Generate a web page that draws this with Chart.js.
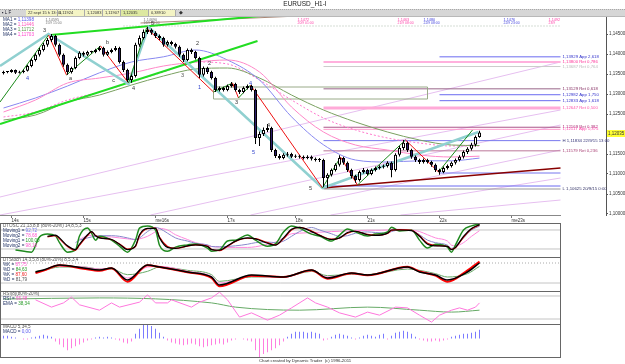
<!DOCTYPE html>
<html><head><meta charset="utf-8">
<script src="https://cdn.jsdelivr.net/npm/chart.js@4.4.1/dist/chart.umd.min.js"></script>
<style>
html,body{margin:0;padding:0;background:#fff;}
body{width:625px;height:364px;position:relative;overflow:hidden;}
canvas{position:absolute;left:0;display:block;}
</style></head><body>
<canvas id="main" width="625" height="223" style="top:0;width:625px;height:223px"></canvas>
<canvas id="p1" width="561" height="34" style="top:223px;width:561px;height:34px"></canvas>
<canvas id="p2" width="561" height="34" style="top:257px;width:561px;height:34px"></canvas>
<canvas id="p3" width="561" height="33" style="top:291px;width:561px;height:33px"></canvas>
<canvas id="p4" width="561" height="40" style="top:324px;width:561px;height:40px"></canvas>
<script>
// ================= DATA =================
const opens=[
1.1352,1.1355,1.1355,1.1360,1.1353,1.1355,1.1358,1.1370,1.1385,1.1398,
1.1410,1.1423,1.1435,1.1445,1.1423,1.1398,1.1373,1.1355,1.1365,1.1390,
1.1403,1.1398,1.1405,1.1405,1.1410,1.1415,1.1398,1.1405,1.1410,1.1415,
1.1380,1.1360,1.1335,1.1345,1.1423,1.1440,1.1455,1.1460,1.1453,1.1445,
1.1440,1.1423,1.1430,1.1425,1.1418,1.1398,1.1385,1.1410,1.1405,1.1390,
1.1348,1.1365,1.1355,1.1340,1.1310,1.1315,1.1310,1.1320,1.1325,1.1310,
1.1305,1.1315,1.1320,1.1310,1.1190,1.1200,1.1210,1.1215,1.1160,1.1145,
1.1140,1.1148,1.1150,1.1143,1.1145,1.1143,1.1140,1.1143,1.1138,1.1135,
1.1135,1.1090,1.1098,1.1110,1.1123,1.1140,1.1128,1.1110,1.1095,1.1085,
1.1105,1.1110,1.1100,1.1110,1.1115,1.1118,1.1120,1.1128,1.1110,1.1148,
1.1165,1.1178,1.1160,1.1143,1.1135,1.1130,1.1135,1.1130,1.1123,1.1110,
1.1105,1.1115,1.1120,1.1128,1.1135,1.1143,1.1155,1.1163,1.1173,1.11924];
const highs=[
1.1358,1.1357,1.1362,1.1361,1.1358,1.1361,1.1373,1.1389,1.1402,1.1415,
1.1428,1.1440,1.1450,1.1448,1.1426,1.1401,1.1376,1.1368,1.1394,1.1407,
1.1406,1.1408,1.1408,1.1413,1.1420,1.1418,1.1409,1.1414,1.1420,1.1418,
1.1384,1.1363,1.1349,1.1428,1.1446,1.1461,1.1468,1.1464,1.1457,1.1449,
1.1443,1.1434,1.1433,1.1428,1.1421,1.1401,1.1414,1.1414,1.1408,1.1393,
1.1369,1.1368,1.1358,1.1343,1.1319,1.1318,1.1324,1.1330,1.1328,1.1313,
1.1319,1.1324,1.1323,1.1313,1.1206,1.1216,1.1225,1.1218,1.1163,1.1150,
1.1152,1.1155,1.1153,1.1149,1.1148,1.1146,1.1147,1.1146,1.1141,1.1140,
1.1138,1.1102,1.1114,1.1127,1.1147,1.1143,1.1131,1.1113,1.1098,1.1109,
1.1115,1.1113,1.1114,1.1119,1.1122,1.1124,1.1132,1.1131,1.1152,1.1170,
1.1185,1.1181,1.1163,1.1146,1.1138,1.1139,1.1138,1.1133,1.1126,1.1113,
1.1119,1.1124,1.1131,1.1139,1.1147,1.1159,1.1167,1.1178,1.1196,1.12083];
const lows=[
1.1349,1.1352,1.1353,1.1350,1.1351,1.1352,1.1356,1.1367,1.1381,1.1394,
1.1406,1.1418,1.1430,1.1419,1.1394,1.1368,1.1348,1.1351,1.1362,1.1387,
1.1394,1.1395,1.1401,1.1402,1.1407,1.1394,1.1395,1.1402,1.1407,1.1376,
1.1355,1.1330,1.1328,1.1341,1.1418,1.1436,1.1450,1.1448,1.1440,1.1435,
1.1418,1.1419,1.1421,1.1414,1.1393,1.1380,1.1382,1.1400,1.1386,1.1340,
1.1344,1.1350,1.1336,1.1305,1.1306,1.1306,1.1307,1.1316,1.1306,1.1300,
1.1302,1.1311,1.1306,1.1175,1.1170,1.1195,1.1205,1.1155,1.1140,1.1136,
1.1137,1.1144,1.1140,1.1140,1.1139,1.1136,1.1137,1.1134,1.1131,1.1130,
1.1068,1.1065,1.1094,1.1106,1.1119,1.1123,1.1105,1.1089,1.1078,1.1081,
1.1101,1.1096,1.1097,1.1106,1.1111,1.1114,1.1116,1.1092,1.1106,1.1144,
1.1160,1.1155,1.1138,1.1130,1.1125,1.1126,1.1126,1.1118,1.1105,1.1098,
1.1102,1.1111,1.1116,1.1124,1.1131,1.1139,1.1150,1.1159,1.1169,1.11907];
const closes=[
1.1355,1.1355,1.1360,1.1353,1.1355,1.1358,1.1370,1.1385,1.1398,1.1410,
1.1423,1.1435,1.1445,1.1423,1.1398,1.1373,1.1355,1.1365,1.1390,1.1403,
1.1398,1.1405,1.1405,1.1410,1.1415,1.1398,1.1405,1.1410,1.1415,1.1380,
1.1360,1.1335,1.1345,1.1423,1.1440,1.1455,1.1460,1.1453,1.1445,1.1440,
1.1423,1.1430,1.1425,1.1418,1.1398,1.1385,1.1410,1.1405,1.1390,1.1348,
1.1365,1.1355,1.1340,1.1310,1.1315,1.1310,1.1320,1.1325,1.1310,1.1305,
1.1315,1.1320,1.1310,1.1190,1.1200,1.1210,1.1215,1.1160,1.1145,1.1140,
1.1148,1.1150,1.1143,1.1145,1.1143,1.1140,1.1143,1.1138,1.1135,1.1135,
1.1090,1.1098,1.1110,1.1123,1.1140,1.1128,1.1110,1.1095,1.1085,1.1105,
1.1110,1.1100,1.1110,1.1115,1.1118,1.1120,1.1128,1.1110,1.1148,1.1165,
1.1178,1.1160,1.1143,1.1135,1.1130,1.1135,1.1130,1.1123,1.1110,1.1105,
1.1115,1.1120,1.1128,1.1135,1.1143,1.1155,1.1163,1.1173,1.11924,1.12035];

const maBars=[0,8,16,24,32,40,48,56,64,72,80,88,96,104,112,119];
const ma1=[1.1265,1.1290,1.1320,1.1353,1.1380,1.1393,1.1410,1.1385,1.1335,1.1243,1.1173,1.1135,1.1130,1.1133,1.1133,1.11398];
const ma2=[1.1255,1.1285,1.13275,1.1340,1.13525,1.1370,1.1380,1.1385,1.1355,1.12675,1.1205,1.11725,1.1160,1.11475,1.11425,1.11446];
const ma3=[1.1235,1.12475,1.1280,1.12975,1.13225,1.1345,1.13625,1.1365,1.1340,1.12975,1.1260,1.1230,1.1205,1.1185,1.11725,1.11712];
const ma4=[1.12425,1.1255,1.1285,1.1305,1.1330,1.1355,1.1380,1.1375,1.1335,1.1285,1.1240,1.1210,1.1190,1.11775,1.1170,1.11703];

const dayTicks=[2,20,38,56,73,91,109,127];
const dayLabels=['14s','15s','me16s','17s','18s','21s','22s','me23s'];
const priceTicks=[1.100,1.105,1.110,1.115,1.125,1.130,1.135,1.140,1.145];
const lastPrice=1.12035;
const infoCells=['22 sept 15 h 13:00','1,11924','1,12083','1,11907','1,12035','0,38910'];

const levelPrices=[1.13929,1.13800,1.13687,1.13129,1.12982,1.12833,1.12647,1.12169,1.12117,1.11834,1.11579,1.11025,1.10700,1.10625];
const levelFrom=[109,80,80,80,109,109,80,80,80,80,80,109,80,80];
const levelTexts=['1,13929 App 2,618','1,13800 Ret 0,786','1,13687 Ret 0,764','1,13129 Ret 0,618','1,12982 App 1,750','1,12833 App 1,618','1,12647 Ret 0,500','1,12169 Ret 0,382','1,12117 App 1,375','H 1,11834 22/9/15 13:00','1,11579 Ret 0,236','','','L 1,10625 20/9/15 0:00'];
const levelEnd=139.25;

const zzBars=[-0.875,11.25,15.75,24.25,31.25,35.75,52.5,57.25,58.75,61.75,79.75,84.25,88.5,100.5,108.75,117.25];
const zzPrices=[1.1280,1.14475,1.13475,1.1420,1.13275,1.1465,1.1305,1.13275,1.1290,1.13225,1.1065,1.11425,1.10725,1.1185,1.1105,1.1210];
const tealBars=[-0.875,11.25,31.25,36.25,79.75,118.75];
const tealPrices=[1.1370,1.1450,1.1325,1.14675,1.1065,1.1205];
const trendGreenBars=[-0.875,63.5], trendGreenPrices=[1.1225,1.14325];
const trendGreen2Bars=[11.75,64.25], trendGreen2Prices=[1.14475,1.1495];
const trendBrownBars=[34.25,73.75], trendBrownPrices=[1.14775,1.1495];
const trendMaroonBars=[79.75,139.25], trendMaroonPrices=[1.1065,1.1115];
const topDotBars=[30,139.25], topDotPrices=[1.1470,1.1470];
const boxBars=[52.5,106], boxPrices=[1.12875,1.13175];
const fanStartBars=[-0.875,-0.875,36.75,61.75,81.75,99.25];
const fanStartPrices=[1.10425,1.09975,1.09975,1.09975,1.09975,1.09975];
const fanEndBars=[139.25,139.25,139.25,139.25,139.25,139.25];
const fanEndPrices=[1.1380,1.1260,1.12225,1.1160,1.1090,1.1035];

const waveText=['3','4','a','b','c','4','5','3','2','1','2','3','4','5','4','5'];
const waveBars=[10.25,6,16.75,26,27.5,32.5,37.25,44.75,48.5,49,51.5,58.25,61.75,62.5,66.25,76.75];
const wavePrices=[1.1460,1.1340,1.1340,1.1430,1.1335,1.1315,1.14775,1.13475,1.14275,1.13175,1.13775,1.1280,1.13275,1.1155,1.12225,1.1065];

const noteBars=[10.5,35,73.5,98.5,105,125,136.25];
const noteA=['1,14595','1,14690','1,1472','1,1463','1,1480','1,1476','1,1492'];
const noteB=['15/9 15:00','16/9 23:00','20/9 01:00','21/9 08:00','22/9 08:00','22/9 23:00','23/9'];

// DTOSC
const oscBars=[3,7,9,11,13,14,16,18,19,21,22,23,24,27,29,31,33,34,36,38,39,41,43,46,48,51,52,54,56,58,61,63,66,68,70,72,74,77,79,82,84,86,88,91,93,96,97,99,102,104,106,108,111,112,113,115,117,119];
const oscGreen=[17,10,58,67,61,40,10,17,61,86,70,48,60,48,29,10,48,86,93,80,32,13,26,33,36,23,13,17,45,48,64,48,29,36,74,93,86,67,61,45,64,83,74,61,67,74,89,77,80,48,23,35,26,10,33,80,93,99];
const oscBlack=[null,null,null,60,64,55,30,18,35,65,75,62,55,50,35,18,30,65,85,85,55,25,22,30,33,28,18,16,30,45,55,52,38,32,55,82,88,75,63,50,55,72,76,65,63,70,80,80,78,60,35,30,28,18,25,60,85,97];
const oscRed=[null,null,null,58,62,52,28,16,32,62,74,63,56,50,36,20,28,62,84,86,58,28,22,29,33,29,19,15,28,44,54,53,40,33,52,80,88,77,64,51,54,70,76,66,63,69,79,81,79,62,38,31,28,19,24,57,83,96];
const oscBlue=[null,null,null,null,null,null,null,40,48,55,58,60,62,62,60,55,50,55,75,88,85,70,55,45,38,33,28,27,28,30,35,40,42,40,45,60,75,88,80,68,60,62,70,74,72,70,75,80,78,65,48,40,32,22,30,55,80,92];
const oscPink=[null,null,null,null,null,null,null,null,50,62,63,62,60,58,55,52,50,52,60,75,85,80,65,50,40,32,28,26,25,25,25,27,35,42,55,68,70,72,73,75,76,77,78,79,79,80,82,82,80,75,65,55,45,32,30,40,60,78];
// DTStoch
const stBars=[8,10,14,20,24,27,31,36,39,46,52,54,62,70,77,81,87,91,101,104,108,111,116,119];
const stBlack=[53,59,74,65,59,65,29,74,68,53,38,14,44,38,59,35,50,44,68,53,44,29,53,80];
const stRed=[50,57,73,63,57,64,24,73,68,52,35,10,42,38,58,33,49,43,69,55,42,24,58,84];
const stGreen=[55,58,68,68,62,62,45,55,68,58,45,25,38,38,55,42,46,45,62,58,48,38,48,70];
const stPink=[null,null,70,68,62,64,35,68,70,55,40,20,40,37,57,38,48,44,66,56,45,30,55,82];
// RSI
const rsiBars=[8,12,15,17,19,24,27,29,34,36,38,41,42,47,49,52,54,56,59,62,66,69,72,76,78,81,84,88,91,94,98,101,104,107,109,112,114,116,118,119];
const rsiVals=[70,51,62,77,57,43,62,51,64,83,62,62,70,51,64,75,90,70,25,36,17,30,49,75,62,51,36,25,38,30,51,49,30,12,30,43,49,43,51,62];
const emaBars=[0,24,52,58,74,91,104,112,119];
const emaVals=[72,75,62,51,43,51,43,38,43];
// MACD histogram (one per bar)
const macdHist=[3,3,2,1,0,-1,-1,1,2,3,4,3,2,-3,-6,-9,-12,-10,-8,-6,-4,-2,-1,1,2,1,2,1,-1,-2,-4,-5,-3,5,10,14,15,13,10,6,2,-2,-4,-5,-6,-7,-6,-5,-6,-8,-9,-8,-7,-6,-5,-6,-4,-2,-1,0,-1,-2,-3,-12,-19,-16,-14,-12,-10,-7,-3,2,5,7,7,7,6,7,6,5,-2,-1,2,4,5,4,3,1,-1,1,3,4,3,2,4,5,-1,3,6,7,8,7,5,2,-1,-2,-3,-3,-2,-3,-2,-1,2,3,4,5,5,6,7,9];

// ================= HELPERS =================
const FONT='"Liberation Sans", Arial, sans-serif';
Chart.defaults.font.family=FONT;
const xMin=-0.875, pxPerBar=4;
const pts=(xs,ys)=>xs.map((x,i)=>({x:x,y:ys[i]}));
function line(data,color,width,extra){
  return Object.assign({type:'line',data:data,borderColor:color,borderWidth:width,pointRadius:0,pointHoverRadius:0,fill:false,tension:0,order:5,spanGaps:false},extra||{});
}
const smooth={cubicInterpolationMode:'monotone'};
const idx=closes.map((_,i)=>i);
const bodyColors=idx.map(i=>closes[i]>=opens[i]?'#ffffff':'#2c1e6e');
const macdColors=macdHist.map(v=>v>=0?'#7b7bff':'#ff7ee0');

const levelColors=['#6b6bf0','#ffb0dd','#cccccc','#996688','#6b6bf0','#6b6bf0','#ffaad8','#aa5588','#ff99cc','#7777ee','#bb7799','#7777ee','#6b6bf0','#999999'];
const levelWidths=[1,2,1,1,1,1,3,1,1,1,1,1,1,1];
const levelTextColors=['#3333cc','#ff3399','#bbbbbb','#883366','#3333cc','#3333cc','#ff55aa','#aa3377','#ff44aa','#333377','#aa4477','#333','#333','#333366'];
const waveColors=['#333','#3344cc','#333','#333','#333','#333','#333','#555','#333','#3344cc','#333','#333','#3344cc','#3344cc','#333','#333'];
const noteColors=['#777','#777','#ff44aa','#ff44aa','#4444dd','#4444dd','#ff44aa'];

// ================= MAIN CHART =================
const mainSets=[];
mainSets.push({type:'bar',data:idx.map(i=>({x:i,y:[opens[i],closes[i]]})),
  backgroundColor:bodyColors,
  borderColor:'#000',borderWidth:1,borderSkipped:false,barThickness:3,grouped:false,minBarLength:1,inflateAmount:0,order:0});
mainSets.push({type:'bar',data:idx.map(i=>({x:i,y:[lows[i],highs[i]]})),
  backgroundColor:'#000',borderWidth:0,barThickness:1,grouped:false,inflateAmount:0,order:1});
fanStartBars.forEach((b,i)=>mainSets.push(line([{x:b,y:fanStartPrices[i]},{x:fanEndBars[i],y:fanEndPrices[i]}],'#e6bff0',1,{order:20})));
levelPrices.forEach((p,i)=>mainSets.push(line([{x:levelFrom[i],y:p},{x:levelEnd,y:p}],levelColors[i],levelWidths[i],{order:18})));
mainSets.push(line([{x:boxBars[0],y:boxPrices[1]},{x:boxBars[1],y:boxPrices[1]},{x:boxBars[1],y:boxPrices[0]},{x:boxBars[0],y:boxPrices[0]},{x:boxBars[0],y:boxPrices[1]}],'#99aa88',1,{order:17}));
mainSets.push(line(pts(topDotBars,topDotPrices),'#aabbaa',1,{borderDash:[1,2],order:17}));
mainSets.push(line(pts(maBars,ma3),'#7aa060',1,Object.assign({order:12},smooth)));
mainSets.push(line(pts(maBars,ma4),'#ff77cc',1,Object.assign({order:12,borderDash:[2,2]},smooth)));
mainSets.push(line(pts(maBars,ma2),'#ff88c8',1,Object.assign({order:11},smooth)));
mainSets.push(line(pts(maBars,ma1),'#8888f0',1,Object.assign({order:11},smooth)));
mainSets.push(line(pts(trendBrownBars,trendBrownPrices),'#aa8877',1,{order:9}));
mainSets.push(line(pts(trendMaroonBars,trendMaroonPrices),'#880000',1.5,{order:9}));
mainSets.push(line(pts(trendGreenBars,trendGreenPrices),'#22dd22',2,{order:8}));
mainSets.push(line(pts(trendGreen2Bars,trendGreen2Prices),'#22dd22',2,{order:8}));
mainSets.push(line(pts(tealBars,tealPrices),'#90d0d0',2.5,{order:7}));
mainSets.push(line(pts(zzBars,zzPrices),'#ee1111',1,{order:6,segment:{borderColor:c=>c.p1.parsed.y>c.p0.parsed.y?'#1a8a1a':'#ee1111'}}));

function txt(c,t,x,y,color,size,align,base){c.font=size+'px '+FONT;c.fillStyle=color;c.textAlign=align||'left';c.textBaseline=base||'middle';c.fillText(t,x,y);}

const mainDeco={id:'mainDeco',
  beforeDraw(chart){
    const c=chart.ctx; c.save();
    txt(c,'EURUSD_H1-I',305,4.5,'#222',6.5,'center');
    c.fillStyle='#d6d6d6'; c.fillRect(0,9,625,8);
    c.fillStyle='#a8a8a8'; for(let x=0;x<625;x+=2){c.fillRect(x,9,1,1);}
    c.fillStyle='#b8b8b8'; c.fillRect(0,16,625,1);
    txt(c,'\u25AA L F',2,13,'#223',4.5);
    const cellX=[27,58,86,104,122,150], cellW=[30,26,16,16,26,25];
    c.fillStyle='#f4f4c4'; c.fillRect(26,10,150,6);
    c.fillStyle='#dde8a0'; c.fillRect(121,10,27,6);
    infoCells.forEach((t,i)=>{txt(c,t,cellX[i]+1,13.2,'#333',4,'left');
      c.fillStyle='#aaa'; c.fillRect(cellX[i]+cellW[i],10,1,6);});
    txt(c,'\u25C6',181,13,'#333',5,'center');
    c.restore();
  },
  afterDatasetsDraw(chart){
    const c=chart.ctx, xs=chart.scales.x, ys=chart.scales.y; c.save();
    levelPrices.forEach((p,i)=>{ if(levelTexts[i]) txt(c,levelTexts[i],xs.getPixelForValue(levelEnd)+2,ys.getPixelForValue(p),levelTextColors[i],4.3); });
    waveText.forEach((t,i)=>txt(c,t,xs.getPixelForValue(waveBars[i]),ys.getPixelForValue(wavePrices[i]),waveColors[i],5.5,'center'));
    noteBars.forEach((b,i)=>{const x=xs.getPixelForValue(b);
      txt(c,noteA[i],x,19.5,noteColors[i],3.8,'left'); txt(c,noteB[i],x,23,noteColors[i],3.4,'left');});
    const ma=[['MA1 = ','1,11398','#5555ee'],['MA2 = ','1,11446','#ff55bb'],['MA3 = ','1,11712','#559944'],['MA4 = ','1,11703','#ff44cc']];
    ma.forEach((m,i)=>{const y=19.5+i*5; txt(c,m[0],3,y,'#223366',4.6); const w=c.measureText(m[0]).width; txt(c,m[1],3+w,y,m[2],4.6);});
    c.restore();
  },
  afterDraw(chart){
    const c=chart.ctx, ys=chart.scales.y, a=chart.chartArea; c.save();
    c.fillStyle='#888'; c.fillRect(0,a.bottom,561,1);
    const y=Math.round(ys.getPixelForValue(lastPrice));
    c.fillStyle='#ffff33'; c.fillRect(a.right+1,y-3,18,7);
    txt(c,lastPrice.toFixed(5).replace('.',','),a.right+2,y+0.5,'#333',4.5);
    c.restore();
  }
};

new Chart(document.getElementById('main'),{
  type:'bar',
  data:{datasets:mainSets},
  options:{responsive:false,animation:false,devicePixelRatio:1,
    layout:{padding:{top:17,left:0,right:0,bottom:0}},
    plugins:{legend:{display:false},tooltip:{enabled:false}},
    scales:{
      x:{type:'linear',min:xMin,max:xMin+606/pxPerBar,offset:false,
        grid:{display:true,drawOnChartArea:false,drawTicks:true,tickLength:3,color:'#777',offset:false},
        border:{display:false},
        afterBuildTicks:s=>{s.ticks=dayTicks.map(v=>({value:v}));},
        afterFit:s=>{s.height=8;},
        ticks:{autoSkip:false,maxRotation:0,minRotation:0,align:'start',padding:0,font:{size:4.5},color:'#333',callback:(v,i)=>dayLabels[i]}},
      y:{position:'right',min:1.09975,max:1.14925,
        grid:{display:true,drawOnChartArea:false,tickLength:2,color:'#555'},
        border:{display:true,color:'#555'},
        afterBuildTicks:s=>{s.ticks=priceTicks.map(v=>({value:v}));},
        afterFit:s=>{s.width=19;},
        ticks:{autoSkip:false,font:{size:4.5},color:'#333',padding:1,crossAlign:'near',callback:v=>v.toFixed(5).replace('.',',')}}
    }
  },
  plugins:[mainDeco]
});

// ================= PANELS =================
function panelDeco(legend,bottomLine,footer){
  return {id:'pd',afterDraw(chart){
    const c=chart.ctx,a=chart.chartArea; c.save();
    c.fillStyle='#666'; c.fillRect(0,0,561,1); c.fillRect(560,0,1,a.bottom); c.fillRect(0,0,1,a.bottom);
    if(bottomLine){c.fillRect(0,a.bottom-1,561,1);}
    legend.forEach(([y,parts])=>{let x=3; parts.forEach(([t,col])=>{txt(c,t,x,y,col,4.6); x+=c.measureText(t).width;});});
    if(footer){ txt(c,footer,305,37,'#333',4.3,'center'); }
    c.restore();
  }};
}
function panelOpts(min,max,padBottom){
  return {responsive:false,animation:false,devicePixelRatio:1,
    layout:{padding:{top:0,left:0,right:0,bottom:padBottom||0}},
    plugins:{legend:{display:false},tooltip:{enabled:false}},
    scales:{x:{type:'linear',display:false,min:xMin,max:xMin+561/pxPerBar,offset:false},
            y:{display:false,min:min,max:max}}};
}
const pEnd=xMin+561/pxPerBar;
const refLine=(v,col,extra)=>line([{x:xMin,y:v},{x:pEnd,y:v}],col,1,Object.assign({order:30},extra||{}));

new Chart(document.getElementById('p1'),{type:'line',
  data:{datasets:[refLine(80,'#c4c4c4'),refLine(20,'#c4c4c4'),
    line(pts(oscBars,oscPink),'#ff88dd',1,Object.assign({order:10},smooth)),
    line(pts(oscBars,oscBlue),'#8888cc',1,Object.assign({order:9},smooth)),
    line(pts(oscBars,oscGreen),'#1f8a1f',1.5,Object.assign({order:8},smooth)),
    line(pts(oscBars,oscRed),'#dd0000',1.2,Object.assign({order:7},smooth)),
    line(pts(oscBars,oscBlack),'#000000',1.2,Object.assign({order:6},smooth))]},
  options:panelOpts(-5.3,102.1),
  plugins:[panelDeco([[2.5,[['DTOSC 21,13,8,8 (80%-20%) 14,8,5,3','#555']]],
    [8,[['Moving1 = ','#223366'],['92,72','#7777ee']]],
    [13,[['Moving2 = ','#223366'],['78,68','#ff55cc']]],
    [18,[['Moving1 = ','#223366'],['100,00','#229922']]],
    [23,[['Moving2 = ','#223366'],['98,16','#ff55cc']]]])]
});

new Chart(document.getElementById('p2'),{type:'line',
  data:{datasets:[refLine(80,'#aaaaaa',{borderDash:[1,2]}),refLine(20,'#c4c4c4'),
    line(pts(stBars,stGreen),'#66aa66',1,Object.assign({order:10},smooth)),
    line(pts(stBars,stPink),'#ff88dd',1,Object.assign({order:9},smooth)),
    line(pts(stBars,stRed),'#ff0000',2,Object.assign({order:8},smooth)),
    line(pts(stBars,stBlack),'#000000',1.5,Object.assign({order:7},smooth))]},
  options:panelOpts(-4,98),
  plugins:[panelDeco([[3,[['DTStoch 14,3,5,8 (80%-20%) 8,5,3,4','#555']]],
    [8,[['%K = ','#223366'],['87,75','#ff55cc']]],
    [13,[['%D = ','#223366'],['84,63','#229922']]],
    [18,[['%K = ','#223366'],['87,60','#ee2222']]],
    [23,[['%D = ','#223366'],['81,79','#555555']]]])]
});

new Chart(document.getElementById('p3'),{type:'line',
  data:{datasets:[refLine(80,'#c4c4c4'),refLine(20,'#c4c4c4'),
    line(pts(emaBars,emaVals),'#66aa66',1,Object.assign({order:10},smooth)),
    line(pts(rsiBars,rsiVals),'#ff77dd',1,{order:9})]},
  options:panelOpts(6.96,93.04),
  plugins:[panelDeco([[2.5,[['RSI(8)(80%-20%)','#555']]],
    [8,[['RSI = ','#223366'],['66,48','#ff55cc']]],
    [13,[['EMA = ','#223366'],['38,34','#229922']]]])]
});

new Chart(document.getElementById('p4'),{type:'bar',
  data:{datasets:[{type:'bar',data:idx.map(i=>({x:i,y:macdHist[i]})),
    backgroundColor:macdColors,borderColor:macdColors,
    barThickness:1,borderWidth:0,inflateAmount:0,grouped:false}]},
  options:panelOpts(-20,15,6),
  plugins:[panelDeco([[3,[['MACD 5,34,5','#555']]],[8,[['MACD = ','#223366'],['0,00','#5555ee']]]],true,'Chart created by Dynamic Trader  (c) 1996-2011')]
});
</script>
</body></html>
